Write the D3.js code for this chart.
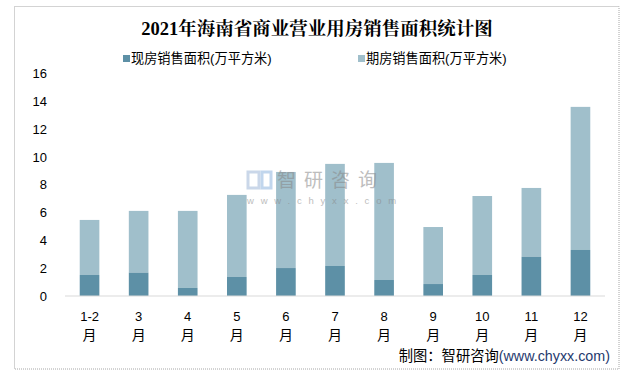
<!DOCTYPE html>
<html><head><meta charset="utf-8">
<script src="https://cdn.jsdelivr.net/npm/d3@7/dist/d3.min.js"></script>
<style>body{margin:0;background:#fff}svg{display:block}</style>
</head><body>
<svg id="c" width="632" height="375"></svg>
<script>
const categories = ["1-2","3","4","5","6","7","8","9","10","11","12"];
const xianfang = [1.51,1.68,0.58,1.37,2.01,2.16,1.15,0.86,1.51,2.81,3.31];
const qifang = [3.96,4.44,5.54,5.90,6.91,7.34,8.42,4.10,5.68,4.96,10.29];
const yTicks = [0,2,4,6,8,10,12,14,16];
const seriesNames = ["现房销售面积(万平方米)","期房销售面积(万平方米)"];
const colors = ["#5d90a6","#a0bfcb"];

const svg = d3.select("#c");
const font = "'Liberation Sans','Noto Sans CJK SC',sans-serif";

svg.append("rect").attr("x",14.5).attr("y",6.5).attr("width",604.5).attr("height",362.5)
  .attr("fill","#fff").attr("stroke","#a6a6a6").attr("stroke-dasharray","1,1");

svg.append("text").attr("x",317).attr("y",35).attr("text-anchor","middle")
  .attr("font-family","'Liberation Serif','Noto Serif CJK SC','Noto Sans CJK SC',serif")
  .attr("font-weight","bold").attr("font-size",18.5).attr("fill","#000")
  .text("2021年海南省商业营业用房销售面积统计图");

const x = d3.scaleBand().domain(categories).range([65,605]).paddingInner(0.6).paddingOuter(0.3);
const y = d3.scaleLinear().domain([0,16]).range([296,73.5]);

// legend
const lg = [{x:123},{x:358}];
lg.forEach((l,i)=>{
  svg.append("rect").attr("x",l.x).attr("y",55).attr("width",7).attr("height",7).attr("fill",colors[i]);
  svg.append("text").attr("x",l.x+8).attr("y",63).attr("font-family",font).attr("font-size",13.2)
    .attr("fill","#000").text(seriesNames[i]);
});

// y axis labels
const ya = svg.append("g").attr("transform","translate(47,0)")
  .call(d3.axisLeft(y).tickValues(yTicks).tickSize(0).tickPadding(0).tickFormat(d3.format("d")));
ya.select(".domain").remove();
ya.selectAll("text").attr("font-family","'Liberation Sans',sans-serif").attr("font-size",13).attr("fill","#000");

// bars
const data = categories.map((c,i)=>({c, a:xianfang[i], b:qifang[i]}));
const g = svg.append("g");
g.selectAll(".b").data(data).join("rect").attr("class","b")
  .attr("x",d=>x(d.c)).attr("width",x.bandwidth())
  .attr("y",d=>y(d.a+d.b)).attr("height",d=>y(d.a)-y(d.a+d.b)).attr("fill",colors[1]);
g.selectAll(".a").data(data).join("rect").attr("class","a")
  .attr("x",d=>x(d.c)).attr("width",x.bandwidth())
  .attr("y",d=>y(d.a)).attr("height",d=>y(0)-y(d.a)).attr("fill",colors[0]);

// x axis
const xa = svg.append("g").attr("transform","translate(0,296)")
  .call(d3.axisBottom(x).tickSize(0).tickFormat(""));
xa.select(".domain").attr("stroke","#d9d9d9").attr("stroke-width",1.2).attr("d","M65,0H605");
xa.selectAll(".tick").each(function(d){
  const t = d3.select(this);
  t.append("text").attr("y",25).attr("text-anchor","middle").attr("font-family","'Liberation Sans',sans-serif")
    .attr("font-size",13).attr("fill","#000").text(d);
  t.append("text").attr("y",44).attr("text-anchor","middle").attr("font-family","'Noto Sans CJK SC',sans-serif")
    .attr("font-size",14).attr("fill","#000").text("月");
});

// watermark
const wm = svg.append("g").attr("opacity",0.55);
wm.append("rect").attr("x",248).attr("y",172).attr("width",11).attr("height",16).attr("fill","none").attr("stroke","#9fb8d8").attr("stroke-width",3);
wm.append("rect").attr("x",262).attr("y",172).attr("width",9).attr("height",16).attr("fill","none").attr("stroke","#8fb6e0").attr("stroke-width",3);
wm.append("text").attr("x",277).attr("y",187).attr("font-family","'Noto Sans CJK SC',sans-serif")
  .attr("font-size",19).attr("fill","#888").attr("letter-spacing",8).text("智研咨询");
wm.append("text").attr("x",247).attr("y",204).attr("font-family","'Liberation Sans',sans-serif")
  .attr("font-size",9.5).attr("fill","#888").attr("letter-spacing",6.8).text("www.chyxx.com");

// footer
const ft = svg.append("text").attr("x",610).attr("y",361).attr("text-anchor","end")
  .attr("font-family","'Noto Sans CJK SC',sans-serif").attr("font-size",14.3);
ft.append("tspan").attr("fill","#000").text("制图：智研咨询");
ft.append("tspan").attr("fill","#1f3a6e").attr("font-family","'Liberation Sans',sans-serif").text("(www.chyxx.com)");
</script>
</body></html>
